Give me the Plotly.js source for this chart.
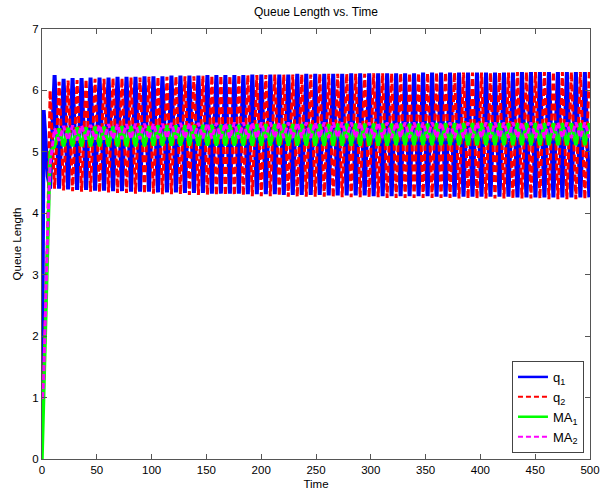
<!DOCTYPE html>
<html>
<head>
<meta charset="utf-8">
<script src="https://cdn.plot.ly/plotly-3.0.1.min.js"></script>
<style>
  html, body { margin: 0; padding: 0; background: #ffffff; }
  #chart { width: 610px; height: 497px; }
</style>
</head>
<body>
<div id="chart"></div>
<script>
// ---- Data ----
const time = [0, 0.5, 1.5, 2.5, 3.3, 5.3,
  7.4, 11.5, 15.6, 19.7, 23.8, 27.9, 32, 36.1, 40.2, 44.3,
  48.4, 52.5, 56.6, 60.7, 64.8, 68.9, 73, 77.1, 81.2, 85.3,
  89.4, 93.5, 97.6, 101.7, 105.8, 109.9, 114, 118.1, 122.2, 126.3,
  130.4, 134.5, 138.6, 142.7, 146.8, 150.9, 155, 159.1, 163.2, 167.3,
  171.4, 175.5, 179.6, 183.7, 187.8, 191.9, 196, 200.1, 204.2, 208.3,
  212.4, 216.5, 220.6, 224.7, 228.8, 232.9, 237, 241.1, 245.2, 249.3,
  253.4, 257.5, 261.6, 265.7, 269.8, 273.9, 278, 282.1, 286.2, 290.3,
  294.4, 298.5, 302.6, 306.7, 310.8, 314.9, 319, 323.1, 327.2, 331.3,
  335.4, 339.5, 343.6, 347.7, 351.8, 355.9, 360, 364.1, 368.2, 372.3,
  376.4, 380.5, 384.6, 388.7, 392.8, 396.9, 401, 405.1, 409.2, 413.3,
  417.4, 421.5, 425.6, 429.7, 433.8, 437.9, 442, 446.1, 450.2, 454.3,
  458.4, 462.5, 466.6, 470.7, 474.8, 478.9, 483, 487.1, 491.2, 495.3,
  499.4];

// start-up transient (t = 0 .. 5.3)
const q1Start  = [1.0, 3.0, 5.68, 5.4, 5.1, 4.6];
const q2Start  = [1.0, 1.0, 1.3, 2.0, 2.5, 3.8];
const ma1Start = [0.0, 0.35, 1.0, 1.7, 2.3, 3.7];
const ma2Start = [1.0, 1.0, 1.3, 2.0, 2.5, 3.8];

// q1: troughs (t = 7.4, 15.6, ...) and peaks (t = 11.5, 19.7, ...)
const q1Low = [4.40, 4.40, 4.39, 4.38, 4.38, 4.37, 4.37, 4.36, 4.36, 4.35,
  4.35, 4.35, 4.34, 4.34, 4.34, 4.33, 4.33, 4.33, 4.32, 4.32,
  4.32, 4.32, 4.31, 4.31, 4.31, 4.31, 4.30, 4.30, 4.30, 4.30,
  4.30, 4.29, 4.29, 4.29, 4.29, 4.29, 4.28, 4.28, 4.28, 4.28,
  4.28, 4.28, 4.28, 4.27, 4.27, 4.27, 4.27, 4.27, 4.27, 4.27,
  4.27, 4.27, 4.26, 4.26, 4.26, 4.26, 4.26, 4.26, 4.26, 4.26, 4.26];
const q1High = [6.25, 6.19, 6.20, 6.20, 6.21, 6.21, 6.21, 6.22, 6.22, 6.22,
  6.23, 6.23, 6.23, 6.24, 6.24, 6.24, 6.24, 6.25, 6.25, 6.25,
  6.25, 6.25, 6.26, 6.26, 6.26, 6.26, 6.26, 6.27, 6.27, 6.27,
  6.27, 6.27, 6.27, 6.28, 6.28, 6.28, 6.28, 6.28, 6.28, 6.28,
  6.28, 6.29, 6.29, 6.29, 6.29, 6.29, 6.29, 6.29, 6.29, 6.29,
  6.29, 6.29, 6.30, 6.30, 6.30, 6.30, 6.30, 6.30, 6.30, 6.30];

// q2: peaks (t = 7.4, 15.6, ...) and troughs (t = 11.5, 19.7, ...)
const q2High = [6.00, 6.14, 6.16, 6.17, 6.18, 6.19, 6.19, 6.20, 6.20, 6.21,
  6.21, 6.22, 6.22, 6.22, 6.23, 6.23, 6.23, 6.24, 6.24, 6.24,
  6.24, 6.25, 6.25, 6.25, 6.25, 6.26, 6.26, 6.26, 6.26, 6.26,
  6.27, 6.27, 6.27, 6.27, 6.27, 6.27, 6.28, 6.28, 6.28, 6.28,
  6.28, 6.28, 6.28, 6.29, 6.29, 6.29, 6.29, 6.29, 6.29, 6.29,
  6.29, 6.29, 6.30, 6.30, 6.30, 6.30, 6.30, 6.30, 6.30, 6.30, 6.30];
const q2Low = [4.40, 4.37, 4.36, 4.35, 4.35, 4.34, 4.34, 4.33, 4.33, 4.32,
  4.32, 4.32, 4.31, 4.31, 4.31, 4.30, 4.30, 4.30, 4.29, 4.29,
  4.29, 4.29, 4.28, 4.28, 4.28, 4.28, 4.27, 4.27, 4.27, 4.27,
  4.27, 4.26, 4.26, 4.26, 4.26, 4.26, 4.26, 4.25, 4.25, 4.25,
  4.25, 4.25, 4.25, 4.25, 4.25, 4.24, 4.24, 4.24, 4.24, 4.24,
  4.24, 4.24, 4.24, 4.24, 4.24, 4.23, 4.23, 4.23, 4.23, 4.23];

// MA1: highs (t = 7.4, 15.6, ...) and lows (t = 11.5, 19.7, ...)
const ma1High = [5.00, 5.38, 5.39, 5.40, 5.40, 5.41, 5.41, 5.41, 5.42, 5.42,
  5.42, 5.42, 5.43, 5.43, 5.43, 5.43, 5.43, 5.44, 5.44, 5.44,
  5.44, 5.44, 5.44, 5.45, 5.45, 5.45, 5.45, 5.45, 5.45, 5.45,
  5.45, 5.45, 5.46, 5.46, 5.46, 5.46, 5.46, 5.46, 5.46, 5.46,
  5.46, 5.46, 5.46, 5.47, 5.47, 5.47, 5.47, 5.47, 5.47, 5.47,
  5.47, 5.47, 5.47, 5.47, 5.47, 5.47, 5.47, 5.47, 5.47, 5.47, 5.47];
const ma1Low = [5.09, 5.09, 5.09, 5.09, 5.09, 5.09, 5.09, 5.09, 5.09, 5.09,
  5.09, 5.10, 5.10, 5.10, 5.10, 5.10, 5.10, 5.10, 5.10, 5.10,
  5.10, 5.10, 5.10, 5.10, 5.10, 5.10, 5.10, 5.10, 5.10, 5.10,
  5.10, 5.10, 5.10, 5.10, 5.10, 5.10, 5.10, 5.10, 5.11, 5.11,
  5.11, 5.11, 5.11, 5.11, 5.11, 5.11, 5.11, 5.11, 5.11, 5.11,
  5.11, 5.11, 5.11, 5.11, 5.11, 5.11, 5.11, 5.11, 5.11, 5.11];

// MA2: lows (t = 7.4, 15.6, ...) and highs (t = 11.5, 19.7, ...)
const ma2Low = [4.80, 5.18, 5.19, 5.19, 5.20, 5.20, 5.20, 5.21, 5.21, 5.21,
  5.21, 5.21, 5.22, 5.22, 5.22, 5.22, 5.22, 5.22, 5.22, 5.22,
  5.22, 5.22, 5.22, 5.22, 5.23, 5.23, 5.23, 5.23, 5.23, 5.23,
  5.23, 5.23, 5.23, 5.23, 5.23, 5.23, 5.23, 5.23, 5.23, 5.23,
  5.23, 5.23, 5.23, 5.23, 5.23, 5.23, 5.23, 5.23, 5.23, 5.23,
  5.23, 5.23, 5.23, 5.23, 5.23, 5.23, 5.23, 5.23, 5.23, 5.23, 5.23];
const ma2High = [5.38, 5.42, 5.43, 5.43, 5.44, 5.44, 5.45, 5.45, 5.45, 5.46,
  5.46, 5.46, 5.46, 5.47, 5.47, 5.47, 5.47, 5.47, 5.47, 5.47,
  5.48, 5.48, 5.48, 5.48, 5.48, 5.48, 5.48, 5.48, 5.48, 5.48,
  5.48, 5.48, 5.48, 5.48, 5.48, 5.48, 5.48, 5.48, 5.48, 5.48,
  5.48, 5.48, 5.48, 5.48, 5.48, 5.48, 5.48, 5.48, 5.48, 5.48,
  5.48, 5.48, 5.48, 5.48, 5.48, 5.48, 5.48, 5.48, 5.48, 5.48];

const seriesNames = ['q<sub>1</sub>', 'q<sub>2</sub>', 'MA<sub>1</sub>', 'MA<sub>2</sub>'];
const xTicks = [0, 50, 100, 150, 200, 250, 300, 350, 400, 450, 500];
const yTicks = [0, 1, 2, 3, 4, 5, 6, 7];

// interleave two alternating sample lists into one series
function weave(a, b) {
  const out = [];
  for (let i = 0; i < a.length; i++) {
    out.push(a[i]);
    if (i < b.length) out.push(b[i]);
  }
  return out;
}

const q1  = q1Start.concat(weave(q1Low, q1High));
const q2  = q2Start.concat(weave(q2High, q2Low));
const ma1 = ma1Start.concat(weave(ma1High, ma1Low));
const ma2 = ma2Start.concat(weave(ma2Low, ma2High));

const FONT = 'Liberation Sans, Arial, Helvetica, sans-serif';
const colors = ['#0000ff', '#ff0000', '#00ff00', '#ff00ff'];
const plotLines = [
  { color: colors[0], width: 4 },
  { color: colors[1], width: 3, dash: '7px,3px' },
  { color: colors[2], width: 3.5 },
  { color: colors[3], width: 3, dash: '6px,3px' }
];
const legendLines = [
  { color: colors[0], width: 2.5 },
  { color: colors[1], width: 2, dash: '5px,3px' },
  { color: colors[2], width: 2.5 },
  { color: colors[3], width: 2, dash: '5px,3px' }
];
const ys = [q1, q2, ma1, ma2];

const traces = [];
ys.forEach((y, i) => {
  traces.push({ x: time, y: y, name: seriesNames[i], mode: 'lines',
                line: plotLines[i], showlegend: false });
});
// legend-only entries (thinner sample lines, as in the reference legend)
ys.forEach((y, i) => {
  traces.push({ x: [null], y: [null], name: seriesNames[i], mode: 'lines',
                line: legendLines[i], showlegend: true, hoverinfo: 'skip' });
});

const axisCommon = {
  showline: true, linecolor: '#555555', linewidth: 1,
  mirror: 'ticks', ticks: 'inside', ticklen: 5, tickcolor: '#555555',
  showgrid: false, zeroline: false,
  tickfont: { family: FONT, size: 11.5, color: '#000000' }
};

const layout = {
  width: 610, height: 497,
  margin: { l: 42, r: 20, t: 29, b: 38 },
  paper_bgcolor: '#ffffff', plot_bgcolor: '#ffffff',
  font: { family: FONT, size: 11, color: '#000000' },
  title: { text: 'Queue Length vs. Time', font: { family: FONT, size: 12, color: '#000000' },
           x: 0.5, xref: 'paper', y: 0.976, yref: 'container', yanchor: 'middle' },
  xaxis: Object.assign({}, axisCommon, {
    range: [0, 500], tickmode: 'array', tickvals: xTicks, ticktext: xTicks.map(String),
    title: { text: 'Time', font: { family: FONT, size: 11.5, color: '#000000' }, standoff: 5 }
  }),
  yaxis: Object.assign({}, axisCommon, {
    range: [0, 7], tickmode: 'array', tickvals: yTicks, ticktext: yTicks.map(String),
    title: { text: 'Queue Length', font: { family: FONT, size: 11.5, color: '#000000' }, standoff: 8 }
  }),
  showlegend: true,
  legend: {
    x: 0.989, xanchor: 'right', y: 0.014, yanchor: 'bottom',
    bgcolor: '#ffffff', bordercolor: '#444444', borderwidth: 1,
    font: { family: FONT, size: 13, color: '#000000' },
    tracegroupgap: 0
  }
};

Plotly.newPlot('chart', traces, layout, { displayModeBar: false, staticPlot: true });
</script>
</body>
</html>
